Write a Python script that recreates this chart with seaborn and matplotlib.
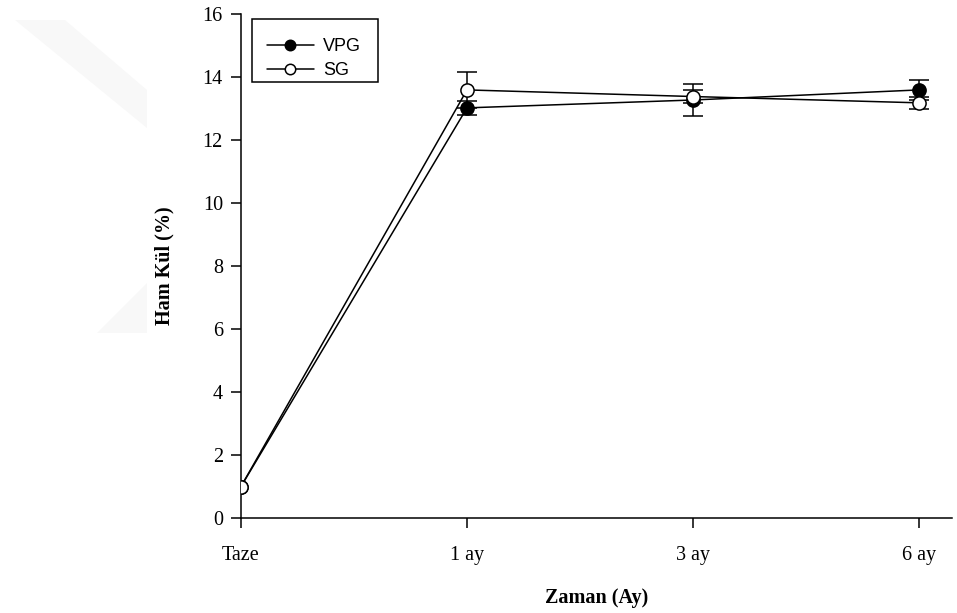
import matplotlib
matplotlib.use("Agg")
import matplotlib.pyplot as plt
from matplotlib.patches import Polygon, Rectangle
from matplotlib.lines import Line2D
import seaborn as sns
import pandas as pd

# Sampling times and group means with standard errors
times = ["Taze", "1 ay", "3 ay", "6 ay"]
vpg_mean = [1.0, 13.02, 13.27, 13.59]
vpg_err = [0.0, 0.23, 0.50, 0.32]
sg_mean = [1.0, 13.59, 13.38, 13.18]
sg_err = [0.0, 0.57, 0.21, 0.19]
groups = ["VPG", "SG"]

pos = list(range(len(times)))
df = pd.DataFrame({
    "pos": pos * 2,
    "value": vpg_mean + sg_mean,
    "err": vpg_err + sg_err,
    "grup": [groups[0]] * len(times) + [groups[1]] * len(times),
})

sns.set_style("white")
plt.rcParams.update({"text.color": "black", "axes.labelcolor": "black",
                     "xtick.color": "black", "ytick.color": "black"})
fig = plt.figure(figsize=(9.57, 6.13), dpi=100)

W, H = 957, 613
def fig_xy(x, y):
    return (x / W, 1 - y / H)

# faint background emblem
def fpoly(pts, **kw):
    fig.patches.append(Polygon([fig_xy(x, y) for x, y in pts], closed=True,
                               transform=fig.transFigure, **kw))
fpoly([(15, 20), (65, 20), (147, 90), (147, 128)], facecolor="#f8f8f8", edgecolor="none", zorder=0)
fpoly([(147, 283), (97, 333), (147, 333)], facecolor="#f8f8f8", edgecolor="none", zorder=0)

ax = fig.add_axes([241 / W, 1 - 518 / H, (952 - 241) / W, (518 - 14) / H])
ax.patch.set_alpha(0)

# error bars first (only where an error exists), so markers sit on top
for g in groups:
    sub = df[(df["grup"] == g) & (df["err"] > 0)]
    ax.errorbar(sub["pos"], sub["value"], yerr=sub["err"], fmt="none",
                ecolor="black", elinewidth=1.1, capsize=7, capthick=1.1, zorder=2)

sns.lineplot(data=df, x="pos", y="value", hue="grup", style="grup",
             palette={"VPG": "black", "SG": "black"},
             markers={"VPG": "o", "SG": "o"}, dashes=False,
             linewidth=1.1, markersize=9.5, markeredgewidth=1.1,
             markeredgecolor="black", ax=ax, zorder=3, legend=False)

# filled markers for VPG, open markers for SG
data_lines = [l for l in ax.get_lines() if l.get_marker() == "o"]
for l, face in zip(data_lines, ["black", "white"]):
    l.set_markerfacecolor(face)
    l.set_markeredgecolor("black")

ax.set_xlim(0, (952 - 241) / 226)
ax.set_ylim(0, 16)
ax.set_xticks(pos)
ax.set_xticklabels(times)
ax.set_yticks(range(0, 17, 2))

serif = "Liberation Serif"
for lab in ax.get_xticklabels() + ax.get_yticklabels():
    lab.set_fontfamily(serif)
    lab.set_fontsize(14.5)
    lab.set_color("black")
ax.tick_params(axis="both", direction="out", length=7, width=1.1, color="black",
               bottom=True, left=True)
ax.tick_params(axis="y", pad=6)
ax.tick_params(axis="x", pad=13)

for s in ["top", "right"]:
    ax.spines[s].set_visible(False)
for s in ["left", "bottom"]:
    ax.spines[s].set_color("black")
    ax.spines[s].set_linewidth(1.1)

ax.set_xlabel("Zaman (Ay)", fontfamily=serif, fontweight="bold", fontsize=14.5,
              labelpad=17, color="black")
ax.set_ylabel("Ham Kül (%)", fontfamily=serif, fontweight="bold", fontsize=14.5,
              labelpad=20, color="black")

# legend entries without frame, with a separate box around them
handles = [Line2D([], [], color="black", lw=1.1, marker="o", markersize=7.5,
                  markerfacecolor=f, markeredgecolor="black", markeredgewidth=1.1)
           for f in ["black", "white"]]
leg = fig.legend(handles, groups, loc="upper left", bbox_to_anchor=fig_xy(267, 38),
                 frameon=False, handlelength=2.6,
                 prop={"family": "Liberation Sans", "size": 13},
                 borderpad=0, handletextpad=0.5, labelspacing=0.4, borderaxespad=0)
for t in leg.get_texts():
    t.set_color("black")
x0, y1 = fig_xy(252, 82)
fig.patches.append(Rectangle((x0, y1), 126 / W, 63 / H, transform=fig.transFigure,
                             facecolor="white", edgecolor="black", linewidth=1.1, zorder=4))
leg.set_zorder(5)

fig.savefig("out.png", dpi=100)
